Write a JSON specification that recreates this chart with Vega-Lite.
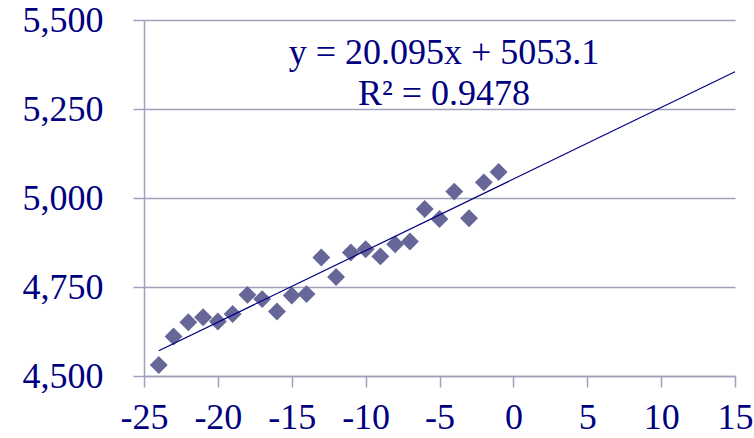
{
  "$schema": "https://vega.github.io/schema/vega-lite/v6.json",
  "width": 591,
  "height": 356,
  "autosize": {"type": "none"},
  "padding": {"left": 144, "top": 20, "right": 19, "bottom": 62},
  "background": "white",
  "config": {
    "view": {"stroke": null},
    "font": "Liberation Serif"
  },
  "datasets": {
    "pts": [
      {"x": -24, "y": 4531}, {"x": -23, "y": 4611}, {"x": -22, "y": 4651}, {"x": -21, "y": 4665},
      {"x": -20, "y": 4653}, {"x": -19, "y": 4674}, {"x": -18, "y": 4728}, {"x": -17, "y": 4716},
      {"x": -16, "y": 4681}, {"x": -15, "y": 4726}, {"x": -14, "y": 4730}, {"x": -13, "y": 4833},
      {"x": -12, "y": 4778}, {"x": -11, "y": 4847}, {"x": -10, "y": 4856}, {"x": -9, "y": 4836},
      {"x": -8, "y": 4870}, {"x": -7, "y": 4878}, {"x": -6, "y": 4969}, {"x": -5, "y": 4941},
      {"x": -4, "y": 5018}, {"x": -3, "y": 4943}, {"x": -2, "y": 5044}, {"x": -1, "y": 5073}
    ],
    "trend": [{"x": -24, "y": 4570.8}, {"x": 15, "y": 5354.5}],
    "labels": [
      {"x": -4.7, "y": 5376, "text": "y = 20.095x + 5053.1"},
      {"x": -4.7, "y": 5261, "text": "R² = 0.9478"}
    ]
  },
  "layer": [
    {
      "data": {"name": "pts"},
      "mark": {"type": "point", "shape": "diamond", "filled": true, "size": 320, "color": "#666699", "opacity": 1},
      "encoding": {
        "x": {
          "field": "x", "type": "quantitative",
          "scale": {"domain": [-25, 15], "nice": false, "zero": false},
          "axis": {
            "values": [-25, -20, -15, -10, -5, 0, 5, 10, 15],
            "labelExpr": "'' + datum.value",
            "title": null, "grid": false,
            "domainColor": "#A0A0BC", "domainWidth": 1.5, "tickColor": "#A0A0BC", "tickSize": 11, "tickWidth": 1.5,
            "labelFont": "Liberation Serif", "labelFontSize": 36, "labelColor": "#000080",
            "labelPadding": 13, "labelFlush": false, "labelOverlap": false
          }
        },
        "y": {
          "field": "y", "type": "quantitative",
          "scale": {"domain": [4500, 5500], "nice": false, "zero": false},
          "axis": {
            "values": [4500, 4750, 5000, 5250, 5500],
            "format": ",d",
            "title": null, "grid": true, "gridColor": "#A0A0BC", "gridWidth": 1.5,
            "domainColor": "#A0A0BC", "domainWidth": 1.5, "tickColor": "#A0A0BC", "tickSize": 11, "tickWidth": 1.5,
            "labelFont": "Liberation Serif", "labelFontSize": 36, "labelColor": "#000080",
            "labelPadding": 30, "labelFlush": false, "labelOverlap": false
          }
        }
      }
    },
    {
      "data": {"name": "trend"},
      "mark": {"type": "line", "color": "#000080", "strokeWidth": 1.2},
      "encoding": {
        "x": {"field": "x", "type": "quantitative"},
        "y": {"field": "y", "type": "quantitative"}
      }
    },
    {
      "data": {"name": "labels"},
      "mark": {"type": "text", "font": "Liberation Serif", "fontSize": 36, "color": "#000080", "align": "center", "baseline": "alphabetic"},
      "encoding": {
        "x": {"field": "x", "type": "quantitative"},
        "y": {"field": "y", "type": "quantitative"},
        "text": {"field": "text"}
      }
    }
  ]
}
